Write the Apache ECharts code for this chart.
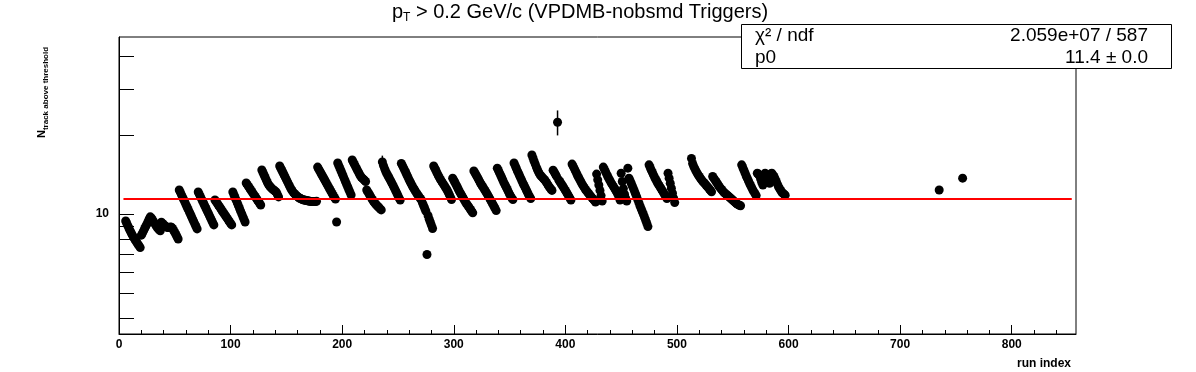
<!DOCTYPE html>
<html><head><meta charset="utf-8">
<script src="https://cdn.jsdelivr.net/npm/echarts@6/dist/echarts.min.js"></script>
<style>html,body{margin:0;padding:0;background:#fff}#c{width:1196px;height:372px}</style>
</head><body><div id="c"></div>
<script>
// ---- data ----
const firstRun = 6;
const nTrack = [
  9.40, 9.20, 9.00, 8.80, 8.62, 8.46, 8.30, 8.16, 8.02, 7.90, 7.78, 7.66, 7.55, 7.44,
  8.30, 8.45, 8.62, 8.80, 8.98, 9.15, 9.35, 9.55, 9.75,
  9.65, 9.50, 9.35, 9.20, 9.05, 8.92, 8.80, 8.70, 8.62,
  9.30, 9.20, 9.10, 9.02, 8.95, 8.90, 8.87, 8.88, 8.92, 8.90, 8.80, 8.65, 8.50, 8.35, 8.18, 8.02,
  12.35, 12.09, 11.83, 11.58, 11.34, 11.10, 10.86, 10.63, 10.41, 10.19, 9.97, 9.76, 9.55, 9.35, 9.15, 8.96, 8.77,
  12.13, 11.88, 11.64, 11.40, 11.17, 10.94, 10.71, 10.49, 10.28, 10.07, 9.86, 9.66, 9.46, 9.27, 9.08,
  11.31, 11.15, 10.98, 10.82, 10.66, 10.51, 10.35, 10.20, 10.05, 9.91, 9.76, 9.62, 9.48, 9.34, 9.21, 9.08,
  12.13, 11.84, 11.56, 11.29, 11.02, 10.76, 10.50, 10.25, 10.01, 9.77, 9.54, 9.32,
  13.13, 12.94, 12.74, 12.56, 12.37, 12.19, 12.01, 11.83, 11.66, 11.48, 11.31, 11.15, 10.98, 10.82,
  14.72, 14.40, 14.09, 13.78, 13.48, 13.19, 12.95, 12.79, 12.65, 12.50, 12.40, 12.30, 12.20, 12.10, 11.85, 11.62,
  15.25, 14.95, 14.65, 14.36, 14.08, 13.80, 13.53, 13.26, 13.00, 12.75, 12.50, 12.30, 12.12, 11.98, 11.86, 11.75, 11.65, 11.56, 11.48,
  11.42, 11.37, 11.33, 11.30, 11.27, 11.25, 11.22, 11.20, 11.18, 11.17, 11.16, 11.15, 11.15, 11.16, 11.18,
  15.10, 14.83, 14.57, 14.31, 14.06, 13.81, 13.57, 13.33, 13.09, 12.86, 12.64, 12.41, 12.19, 11.98, 11.77, 11.56, 11.40,
  9.32,
  15.65, 15.29, 14.93, 14.59, 14.25, 13.92, 13.59, 13.28, 12.97, 12.67, 12.38, 12.09, 11.81,
  16.07, 15.76, 15.46, 15.17, 14.88, 14.60, 14.33, 14.06, 13.84, 13.70, 13.58, 13.45, 13.30,
  12.35, 12.14, 11.94, 11.74, 11.55, 11.36, 11.18, 11.04, 10.92, 10.80, 10.68, 10.57, 10.46, 10.36,
  15.80, 15.30, 14.90, 14.55, 14.25, 14.00, 13.75, 13.50, 13.25, 13.00, 12.75, 12.50, 12.25, 12.00, 11.75, 11.50, 11.30,
  15.60, 15.30, 15.00, 14.70, 14.40, 14.10, 13.80, 13.50, 13.25, 13.00, 12.75, 12.55, 12.35, 12.15, 11.95, 11.80, 11.62, 11.46, 11.31,
  11.00, 10.75, 10.50, 10.25, 7.00, 9.85, 9.55, 9.30, 9.05, 8.80,
  15.25, 14.95, 14.65, 14.35, 14.05, 13.80, 13.55, 13.35, 13.15, 12.95, 12.75, 12.55, 12.35, 12.10, 11.85, 11.60, 11.35,
  13.70, 13.45, 13.20, 12.95, 12.70, 12.45, 12.20, 12.00, 11.80, 11.60, 11.40, 11.20, 11.00, 10.85, 10.70, 10.55, 10.40, 10.25, 10.10,
  14.60, 14.35, 14.10, 13.85, 13.60, 13.35, 13.10, 12.90, 12.70, 12.50, 12.30, 12.10, 11.90, 11.70, 11.50, 11.30, 11.10, 10.90, 10.70, 10.50, 10.30,
  14.96, 14.65, 14.35, 14.05, 13.75, 13.45, 13.15, 12.90, 12.65, 12.40, 12.15, 11.90, 11.70, 11.50, 11.35,
  15.65, 15.30, 14.95, 14.60, 14.30, 14.00, 13.70, 13.40, 13.10, 12.85, 12.60, 12.35, 12.10, 11.85, 11.65, 11.45,
  16.80, 16.35, 15.90, 15.50, 15.10, 14.75, 14.45, 14.20, 14.00, 13.85, 13.70, 13.55, 13.40, 13.20, 13.00, 12.80, 12.60, 12.45, 12.30,
  14.70, 14.45, 14.20, 13.95, 22.40, 13.50, 13.30, 13.10, 12.90, 12.70, 12.50, 12.30, 12.10, 11.90, 11.70, 11.50, 11.30,
  15.50, 15.20, 14.90, 14.60, 14.30, 14.00, 13.75, 13.50, 13.25, 13.00, 12.80, 12.60, 12.40, 12.25, 12.10, 11.95, 11.80, 11.65, 11.50, 11.40, 11.25, 11.10,
  14.20, 13.50, 12.90, 12.30, 11.75, 11.20,
  15.10, 14.80, 14.50, 14.20, 13.90, 13.65, 13.40, 13.15, 12.95, 12.75, 12.55, 12.35, 12.15, 11.90, 11.60, 11.30,
  14.30, 13.30, 12.50, 11.90, 11.50, 11.20, 14.96,
  13.70, 13.40, 13.10, 12.80, 12.50, 12.20, 11.90, 11.60, 11.30, 11.00, 10.70, 10.45, 10.20, 9.95, 9.70, 9.45, 9.20, 8.95,
  15.40, 15.05, 14.70, 14.40, 14.10, 13.80, 13.55, 13.30, 13.05, 12.85, 12.65, 12.45, 12.25, 12.05, 11.85, 11.65, 11.45,
  14.30, 13.70, 13.10, 12.55, 12.00, 11.50, 11.05,
  null, null, null, null, null, null, null, null, null, null, null, null, null, null,
  16.30, 15.60, 15.20, 14.90, 14.60, 14.35, 14.10, 13.90, 13.70, 13.50, 13.35, 13.20, 13.05, 12.90, 12.75, 12.60, 12.45, 12.30, 12.15,
  13.90, 13.70, 13.50, 13.30, 13.10, 12.90, 12.70, 12.55, 12.40, 12.25, 12.10, 12.00, 11.90, 11.80, 11.70, 11.60, 11.50, 11.40, 11.30, 11.20, 11.10, 11.00, 10.90, 10.85, 10.80, 10.75,
  15.40, 15.05, 14.70, 14.35, 14.00, 13.70, 13.40, 13.10, 12.85, 12.60, 12.35, 12.15, 11.95, 11.75,
  14.30, 14.20, 14.00, 13.60, 13.20, 12.90, 13.80, 14.30, 14.10, 13.80, 13.40, 13.10, 14.20, 14.30, 14.10, 13.90, 13.60, 13.30, 13.00, 12.70, 12.50, 12.30, 12.10, 12.00, 11.90, 11.80
];
const extraRuns = [735, 756];
const extraValues = [12.35, 13.70];
const errRuns = [236, 393];
const errValues = [15.80, 22.40];
const errSizes = [0.9, 2.45];
const fitRange = [4, 853.8];
const fitP0 = 11.4;
const xMax = 857.6;
const yMin = 3.48, yMax = 47.4;
const xMajorTicks = [0, 100, 200, 300, 400, 500, 600, 700, 800];
const xMinorTicks = [20,40,60,80,120,140,160,180,220,240,260,280,320,340,360,380,420,440,460,480,520,540,560,580,620,640,660,680,720,740,760,780,820,840];
const yTicks = [4, 5, 6, 7, 8, 9, 10, 20, 30, 40];
const yLabels = [10];
const titleMain = ' > 0.2 GeV/c (VPDMB-nobsmd Triggers)';
const statsRows = [['χ² / ndf', '2.059e+07 / 587'], ['p0', '11.4 ± 0.0']];

// ---- build ----
const FONT = '"Liberation Sans", Arial, Helvetica, sans-serif';
const pts = [];
nTrack.forEach((v, i) => { if (v != null) pts.push([firstRun + i, v]); });
extraRuns.forEach((r, i) => pts.push([r, extraValues[i]]));
const errData = errRuns.map((r, i) => [r, errValues[i], errSizes[i]]);

const chart = echarts.init(document.getElementById('c'));
const tickStyle = { color: '#000', width: 1 };
chart.setOption({
  animation: false,
  backgroundColor: '#fff',
  grid: { left: 119, right: 120, top: 37, bottom: 38, show: true, borderColor: '#000', borderWidth: 1, backgroundColor: 'transparent' },
  xAxis: [{
    type: 'value', min: 0, max: xMax, position: 'bottom',
    axisLine: { lineStyle: tickStyle },
    axisTick: { inside: true, length: 9, customValues: xMajorTicks, lineStyle: tickStyle },
    axisLabel: { customValues: xMajorTicks, color: '#000', fontWeight: 'bold', fontSize: 12, fontFamily: FONT, margin: 5 },
    splitLine: { show: false }
  }, {
    type: 'value', min: 0, max: xMax, position: 'bottom',
    axisLine: { show: false },
    axisTick: { inside: true, length: 4, customValues: xMinorTicks, lineStyle: tickStyle },
    axisLabel: { show: false },
    splitLine: { show: false }
  }],
  yAxis: {
    type: 'log', logBase: 10, min: yMin, max: yMax,
    axisLine: { show: true, lineStyle: tickStyle },
    axisTick: { show: true, inside: true, length: 15, customValues: yTicks, lineStyle: tickStyle },
    axisLabel: { customValues: yLabels, color: '#000', fontWeight: 'bold', fontSize: 12, fontFamily: FONT, margin: 10 },
    splitLine: { show: false }, minorTick: { show: false }
  },
  series: [{
    type: 'scatter', data: pts, symbol: 'circle', symbolSize: 9,
    itemStyle: { color: '#000', opacity: 1 }, silent: true, z: 2
  }, {
    type: 'custom', data: errData, z: 3, silent: true,
    renderItem: function (params, api) {
      const x = api.value(0), y = api.value(1), e = api.value(2);
      const p1 = api.coord([x, y - e]);
      const p2 = api.coord([x, y + e]);
      return { type: 'line', shape: { x1: p1[0], y1: p1[1], x2: p2[0], y2: p2[1] }, style: { stroke: '#000', lineWidth: 1.5 } };
    }
  }, {
    type: 'line', data: [[fitRange[0], fitP0], [fitRange[1], fitP0]],
    symbol: 'none', lineStyle: { color: '#ff0000', width: 2 }, silent: true, z: 5
  }],
  graphic: [
    { type: 'text', x: 580, y: 2, z: 10, style: {
        text: '{m|p}{s|T}{m|' + titleMain + '}', align: 'center', verticalAlign: 'top', fontFamily: FONT,
        rich: { m: { fontSize: 20, fontFamily: FONT, lineHeight: 22, verticalAlign: 'top', fill: '#000' },
                s: { fontSize: 12, fontFamily: FONT, lineHeight: 14, padding: [11, 0, 0, 0], verticalAlign: 'bottom', fill: '#000' } } } },
    { type: 'rect', z: 20, shape: { x: 741.5, y: 24.5, width: 430, height: 44 }, style: { fill: '#fff', stroke: '#000', lineWidth: 1 } },
    { type: 'text', z: 21, x: 755, y: 36, style: { text: statsRows[0][0], fontSize: 19, fontFamily: FONT, fill: '#000', align: 'left', verticalAlign: 'middle' } },
    { type: 'text', z: 21, x: 1148, y: 36, style: { text: statsRows[0][1], fontSize: 19, fontFamily: FONT, fill: '#000', align: 'right', verticalAlign: 'middle' } },
    { type: 'text', z: 21, x: 755, y: 58, style: { text: statsRows[1][0], fontSize: 19, fontFamily: FONT, fill: '#000', align: 'left', verticalAlign: 'middle' } },
    { type: 'text', z: 21, x: 1148, y: 58, style: { text: statsRows[1][1], fontSize: 19, fontFamily: FONT, fill: '#000', align: 'right', verticalAlign: 'middle' } },
    { type: 'text', z: 10, x: 43, y: 138, rotation: Math.PI / 2, style: {
        text: '{n|N}{s|track above threshold}', align: 'left', verticalAlign: 'middle',
        rich: { n: { fontSize: 11, fontWeight: 'bold', fontFamily: FONT, lineHeight: 13, verticalAlign: 'top', fill: '#000' },
                s: { fontSize: 8, fontWeight: 'bold', fontFamily: FONT, lineHeight: 9, padding: [6, 0, 0, 0], verticalAlign: 'bottom', fill: '#000' } } } },
    { type: 'text', z: 10, x: 1071, y: 364, style: { text: 'run index', fontSize: 12, fontWeight: 'bold', fontFamily: FONT, fill: '#000', align: 'right', verticalAlign: 'middle' } }
  ]
});
</script></body></html>
